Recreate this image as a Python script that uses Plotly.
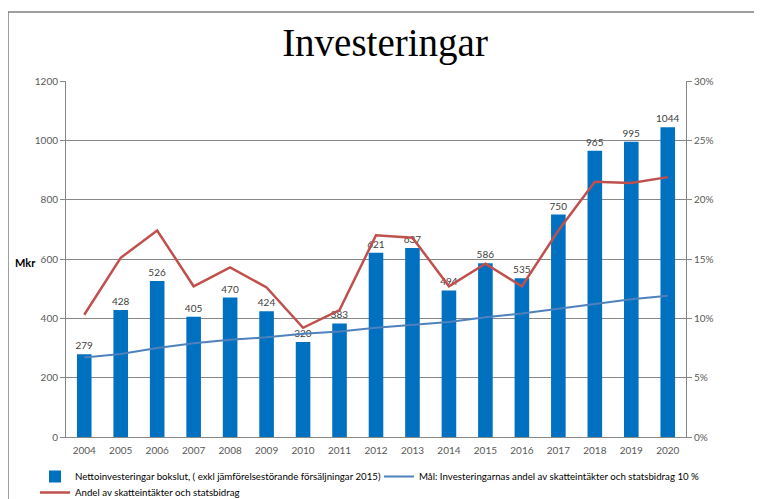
import plotly.graph_objects as go

years = [str(y) for y in range(2004, 2021)]
netto = [279, 428, 526, 405, 470, 424, 320, 383, 621, 637, 494, 586, 535, 750, 965, 995, 1044]
mal = [6.7, 7.0, 7.5, 7.9, 8.2, 8.4, 8.7, 8.9, 9.2, 9.45, 9.7, 10.1, 10.4, 10.8, 11.2, 11.6, 11.9]
andel = [10.3, 15.1, 17.4, 12.7, 14.3, 12.6, 9.2, 10.7, 17.0, 16.8, 12.7, 14.6, 12.7, 17.4, 21.5, 21.4, 21.9]

left_ticks = [0, 200, 400, 600, 800, 1000, 1200]
right_ticks = [0, 5, 10, 15, 20, 25, 30]

name_bar = "Nettoinvesteringar bokslut, ( exkl jämförelsestörande försäljningar 2015)"
name_mal = "Mål: Investeringarnas andel av skatteintäkter och statsbidrag 10 %"
name_andel = "Andel av skatteintäkter och statsbidrag"

font_fam = "Lato, 'Open Sans', sans-serif"
tick_col = "#595959"
axis_col = "#878787"

fig = go.Figure()
fig.add_trace(go.Bar(
    x=years, y=netto, name=name_bar,
    marker=dict(color="#0070C0", line=dict(width=0)),
    text=[str(v) for v in netto], textposition="outside", constraintext="none",
    textfont=dict(size=10, color="#404040", family=font_fam),
    cliponaxis=False, yaxis="y", legend="legend",
))
fig.add_trace(go.Scatter(
    x=years, y=mal, name=name_mal, mode="lines",
    line=dict(color="#4F81BD", width=2), yaxis="y2", legend="legend2",
))
fig.add_trace(go.Scatter(
    x=years, y=andel, name=name_andel, mode="lines",
    line=dict(color="#C0504D", width=2.5), yaxis="y2", legend="legend3",
))

# page body has an 8px offset; figure is sized so the screen matches 762x499
OFF = 8
W, H = 762 - OFF, 499 - OFF
L, T = 66 - OFF, 81 - OFF
pw, ph = 620, 356
R, B = W - L - pw, H - T - ph

def px_x(sx):
    return (sx - OFF - L) / pw

def px_y(sy):
    return (T + ph - (sy - OFF)) / ph

leg_font = dict(size=9.7, color="#000000", family=font_fam)

def leg(sx, sy):
    return dict(
        orientation="h", x=px_x(sx), xanchor="left", y=px_y(sy), yanchor="top",
        font=leg_font, itemwidth=30, bgcolor="rgba(0,0,0,0)",
    )

fig.update_layout(
    width=W, height=H,
    margin=dict(l=L, r=R, t=T, b=B, autoexpand=False),
    paper_bgcolor="white", plot_bgcolor="white",
    bargap=0.6,
    showlegend=True,
    title=dict(text="Investeringar", x=0.5, xanchor="center", y=1 - (42 - OFF) / H, yanchor="middle",
               font=dict(family="'Liberation Serif', 'DejaVu Serif', serif", size=39, color="#000000")),
    font=dict(family=font_fam, size=10, color=tick_col),
    xaxis=dict(
        type="category", showgrid=False, showline=True, linecolor=axis_col, linewidth=1,
        ticks="", tickfont=dict(size=10, color=tick_col), ticklabelstandoff=4,
    ),
    yaxis=dict(
        range=[0, 1200], tickvals=left_ticks, ticktext=[str(v) for v in left_ticks],
        showgrid=True, gridcolor=axis_col, gridwidth=1,
        showline=True, linecolor=axis_col, linewidth=1,
        ticks="outside", ticklen=5, tickcolor=axis_col,
        tickfont=dict(size=10, color=tick_col), zeroline=False,
    ),
    yaxis2=dict(
        range=[0, 30], tickvals=right_ticks, ticktext=[f"{v}%" for v in right_ticks],
        overlaying="y", side="right", showgrid=False,
        showline=True, linecolor=axis_col, linewidth=1,
        ticks="outside", ticklen=5, tickcolor=axis_col,
        tickfont=dict(size=10, color=tick_col), zeroline=False,
    ),
    legend=leg(35, 462),
    legend2=leg(379, 462),
    legend3=leg(35, 478),
    annotations=[dict(
        text="<b>Mkr</b>", x=px_x(25), y=px_y(262), xref="paper", yref="paper",
        showarrow=False, font=dict(size=11, color="#000000", family=font_fam),
        xanchor="center", yanchor="middle",
    )],
    shapes=[dict(
        type="rect", xref="paper", yref="paper",
        x0=px_x(8), x1=px_x(800), y0=px_y(560), y1=px_y(12),
        line=dict(color="#7f7f7f", width=1.5), layer="below",
    )],
)

fig.write_html("out.html")
